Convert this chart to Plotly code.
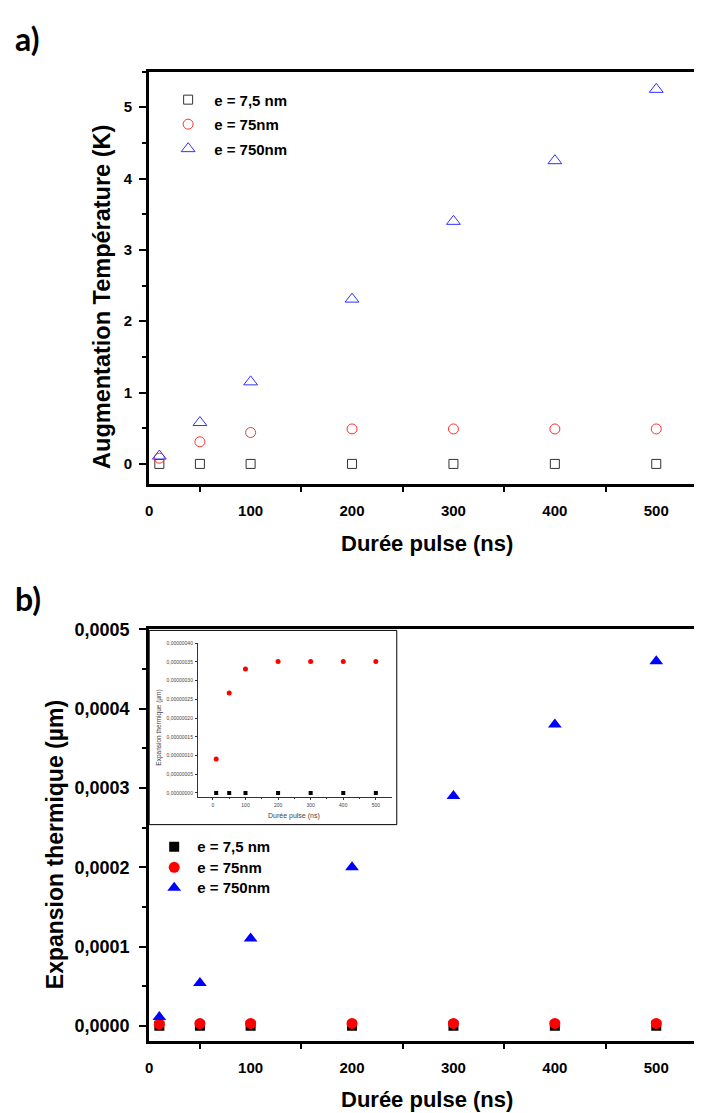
import plotly.graph_objects as go

# ---------------- data ----------------
pulse_ns = [10, 50, 100, 200, 300, 400, 500]

# a) temperature rise (K)
temp_7_5nm = [0, 0, 0, 0, 0, 0, 0]
temp_75nm = [0.08, 0.31, 0.44, 0.49, 0.49, 0.49, 0.49]
temp_750nm = [0.11, 0.58, 1.15, 2.31, 3.40, 4.25, 5.25]

# b) thermal expansion (µm), main plot
exp_7_5nm = [0, 0, 0, 0, 0, 0, 0]
exp_75nm = [0.0000020, 0.0000028, 0.0000030, 0.0000030, 0.0000030, 0.0000030, 0.0000030]
exp_750nm = [0.000011, 0.000054, 0.00011, 0.00020, 0.00029, 0.00038, 0.00046]

# b) inset (µm)
inset_exp_7_5nm = [0, 0, 0, 0, 0, 0, 0]
inset_exp_75nm = [0.000000091, 0.000000267, 0.000000331, 0.000000351,
                  0.000000351, 0.000000351, 0.000000351]

legend_labels = ["e = 7,5 nm", "e = 75nm", "e = 750nm"]

# the page body has an 8px default margin: the figure starts at (8, 8)
OFF = 8
W, H = 702 - OFF, 1113 - OFF
def px(x):
    return (x - OFF) / W
def py(y):
    return 1 - (y - OFF) / H

FONT = "Liberation Sans"
fig = go.Figure()

# ---- a) open markers ----
top_styles = [
    dict(symbol="square-open", size=9, color="#333333"),
    dict(symbol="circle-open", size=10, color="#ff3030"),
    dict(symbol="triangle-up-open", size=12, color="#3030ff"),
]
for i, (yv, st) in enumerate(zip([temp_7_5nm, temp_75nm, temp_750nm], top_styles)):
    fig.add_trace(go.Scatter(
        x=pulse_ns, y=yv, mode="markers", name=legend_labels[i],
        marker=dict(symbol=st["symbol"], size=st["size"], color=st["color"],
                    line=dict(width=1, color=st["color"])),
        xaxis="x", yaxis="y", legend="legend", legendgroup="a%d" % i))

# ---- b) filled markers ----
bot_styles = [
    dict(symbol="square", size=10, color="#000000"),
    dict(symbol="circle", size=11, color="#ff0000"),
    dict(symbol="triangle-up", size=12, color="#0000ff"),
]
for i, (yv, st) in enumerate(zip([exp_7_5nm, exp_75nm, exp_750nm], bot_styles)):
    fig.add_trace(go.Scatter(
        x=pulse_ns, y=yv, mode="markers",
        name="<span style='font-size:15px'>%s</span>" % legend_labels[i],
        marker=dict(symbol=st["symbol"], size=st["size"], color=st["color"]),
        xaxis="x2", yaxis="y2", legend="legend2", legendgroup="b%d" % i))

# ---- inset ----
fig.add_trace(go.Scatter(x=pulse_ns, y=inset_exp_7_5nm, mode="markers", showlegend=False,
                         marker=dict(symbol="square", size=4, color="black"),
                         xaxis="x3", yaxis="y3"))
fig.add_trace(go.Scatter(x=pulse_ns, y=inset_exp_75nm, mode="markers", showlegend=False,
                         marker=dict(symbol="circle", size=5, color="red"),
                         xaxis="x3", yaxis="y3"))

tick_bold = dict(family=FONT, size=15, color="black", weight="bold")

def main_x(domain_y_anchor):
    return dict(domain=[px(146), 1], range=[0, (702 - 146) / 1.02], anchor=domain_y_anchor,
                showline=True, linecolor="black", linewidth=3, mirror=True,
                ticks="outside", ticklen=6, tickwidth=2, tickcolor="rgba(0,0,0,0)",
                tick0=0, dtick=100, ticklabelstandoff=5,
                minor=dict(ticks="outside", dtick=50, ticklen=5, tickwidth=2, tickcolor="black"),
                showgrid=False, zeroline=False, tickfont=tick_bold)

fig.update_layout(
    width=W, height=H, margin=dict(l=0, r=0, t=0, b=0),
    paper_bgcolor="white", plot_bgcolor="white", separators=",.",
    font=dict(family=FONT, color="black"),
    xaxis=main_x("y"),
    yaxis=dict(domain=[py(478), py(62)], range=[-0.278, 5.5], anchor="x",
               showline=True, linecolor="black", linewidth=3,
               ticks="outside", ticklen=7, tickwidth=2, tickcolor="black",
               tick0=0, dtick=1, ticklabelstandoff=4,
               minor=dict(ticks="outside", dtick=0.5, ticklen=4, tickwidth=2, tickcolor="black"),
               showgrid=False, zeroline=False, tickfont=tick_bold),
    xaxis2=main_x("y2"),
    yaxis2=dict(domain=[py(1040), py(625)], range=[-0.00001875, 0.0005], anchor="x2",
                showline=True, linecolor="black", linewidth=3,
                ticks="outside", ticklen=7, tickwidth=2, tickcolor="black",
                tick0=0, dtick=0.0001, tickformat=".4f", ticklabelstandoff=6,
                minor=dict(ticks="outside", dtick=0.00005, ticklen=4, tickwidth=2, tickcolor="black"),
                showgrid=False, zeroline=False,
                tickfont=dict(family=FONT, size=18, color="black", weight="bold")),
    xaxis3=dict(domain=[px(195), px(390)], range=[-46, 549], anchor="y3",
                showline=True, linecolor="#333333", linewidth=1,
                ticks="outside", ticklen=2, tickwidth=1, tickcolor="#333333",
                tick0=0, dtick=100, ticklabelstandoff=1,
                minor=dict(ticks="outside", dtick=50, ticklen=1.5, tickwidth=1, tickcolor="#333333"),
                showgrid=False, zeroline=False,
                tickfont=dict(family=FONT, size=5, color="#444444")),
    yaxis3=dict(domain=[py(794), py(639)], range=[-0.0000000106, 0.0000004], anchor="x3",
                showline=True, linecolor="#333333", linewidth=1,
                ticks="outside", ticklen=2, tickwidth=1, tickcolor="#333333",
                tick0=0, dtick=0.00000005, tickformat=".8f", ticklabelstandoff=1,
                showgrid=False, zeroline=False,
                tickfont=dict(family=FONT, size=5, color="#444444")),
    legend=dict(x=px(159), y=py(74), xanchor="left", yanchor="top",
                bgcolor="rgba(0,0,0,0)", borderwidth=0, itemwidth=42,
                tracegroupgap=2,
                font=dict(family=FONT, size=15, color="black", weight="bold")),
    legend2=dict(x=px(148), y=py(829), xanchor="left", yanchor="top",
                 bgcolor="rgba(0,0,0,0)", borderwidth=0, itemwidth=36,
                 tracegroupgap=0,
                 font=dict(family=FONT, size=13.46, color="black", weight="bold")),
    showlegend=True,
)

# inset frame
fig.add_shape(type="rect", xref="paper", yref="paper",
              x0=px(146), x1=px(395), y0=py(822), y1=py(626),
              line=dict(color="black", width=1), fillcolor="white", layer="below")

ann = []
# panel labels
ann.append(dict(text="<b>a)</b>", x=px(9), y=py(29), xanchor="left", yanchor="middle",
                font=dict(family="Lato", size=32, color="black")))
ann.append(dict(text="<b>b)</b>", x=px(9), y=py(594), xanchor="left", yanchor="middle",
                font=dict(family="Lato", size=32, color="black")))
# axis titles
ann.append(dict(text="<b>Durée pulse (ns)</b>", x=px(425), y=py(538), xanchor="center",
                yanchor="middle", font=dict(family=FONT, size=22, color="black")))
ann.append(dict(text="<b>Durée pulse (ns)</b>", x=px(425), y=py(1099), xanchor="center",
                yanchor="middle", font=dict(family=FONT, size=22, color="black")))
ann.append(dict(text="<b>Augmentation Température (K)</b>", x=px(99), y=py(289),
                xanchor="center", yanchor="middle", textangle=-90,
                font=dict(family=FONT, size=23.5, color="black")))
ann.append(dict(text="<b>Expansion thermique (µm)</b>", x=px(52), y=py(842),
                xanchor="center", yanchor="middle", textangle=-90,
                font=dict(family=FONT, size=23, color="black")))
# inset titles
ann.append(dict(text="Durée pulse (ns)", x=px(292), y=py(813), xanchor="center",
                yanchor="middle", font=dict(family=FONT, size=7, color="#444444")))
ann.append(dict(text="Expansion thermique (µm)", x=px(155), y=py(724),
                xanchor="center", yanchor="middle", textangle=-90,
                font=dict(family=FONT, size=6.5, color="#444444")))
for a in ann:
    a.update(xref="paper", yref="paper", showarrow=False)
fig.update_layout(annotations=ann)

fig.write_html("out.html")
